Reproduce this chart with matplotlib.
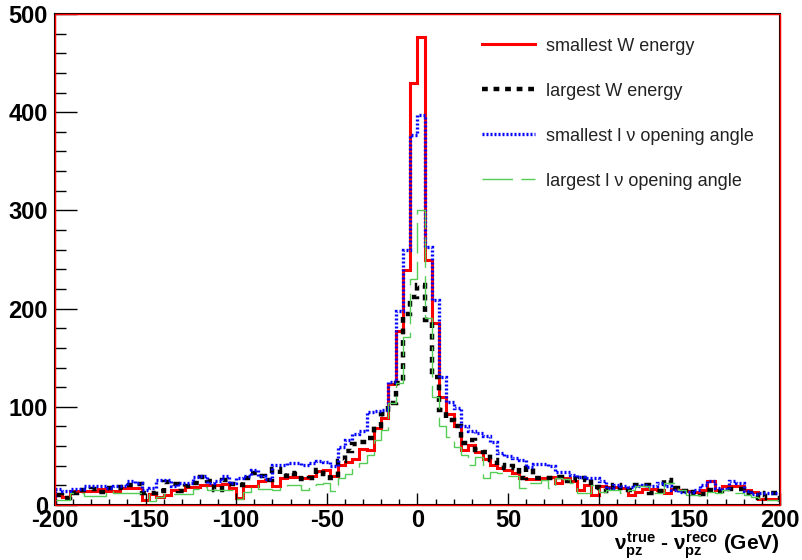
import numpy as np
import matplotlib
matplotlib.use('Agg')
import matplotlib.pyplot as plt
from matplotlib.patches import Rectangle

plt.rcParams['font.family'] = ['Liberation Sans', 'DejaVu Sans']
plt.rcParams['axes.unicode_minus'] = False
plt.rcParams['mathtext.fontset'] = 'custom'
plt.rcParams['mathtext.rm'] = 'Liberation Sans:bold'
plt.rcParams['mathtext.it'] = 'Liberation Sans:bold'
plt.rcParams['mathtext.bf'] = 'Liberation Sans:bold'

# 100 bins of width 4 GeV from -200 to 200
edges = np.linspace(-200, 200, 101)

smallest_w = [10, 8, 14, 14, 14, 14, 16, 14, 14, 17,
              17, 17, 5, 11, 8, 10, 15, 15, 18, 18,
              20, 20, 20, 21, 17, 7, 19, 19, 24, 25,
              19, 28, 29, 29, 27, 30, 35, 36, 30, 41,
              44, 47, 57, 56, 78, 89, 123, 177, 239, 430,
              477, 249, 185, 110, 93, 80, 56, 61, 54, 47,
              41, 38, 36, 33, 27, 26, 26, 28, 29, 22,
              27, 24, 15, 20, 10, 19, 18, 18, 17, 10,
              13, 16, 16, 15, 12, 16, 15, 14, 13, 15,
              24, 15, 19, 19, 19, 15, 13, 6, 6, 6]

largest_w = [10, 7, 12, 15, 15, 16, 13, 17, 17, 18,
             20, 21, 12, 12, 14, 23, 21, 14, 19, 22,
             29, 24, 15, 25, 21, 20, 27, 33, 30, 25,
             37, 30, 33, 32, 26, 28, 36, 32, 27, 45,
             55, 62, 64, 68, 80, 93, 104, 124, 195, 212,
             224, 188, 130, 97, 87, 80, 63, 66, 56, 54,
             46, 41, 38, 40, 27, 38, 27, 27, 27, 29,
             24, 27, 25, 27, 18, 17, 14, 20, 17, 15,
             20, 20, 12, 14, 25, 17, 14, 12, 13, 11,
             15, 14, 16, 16, 16, 12, 10, 7, 12, 12]

smallest_lnu = [16, 14, 16, 16, 19, 19, 19, 17, 19, 19,
                24, 22, 15, 17, 25, 25, 19, 22, 22, 29,
                30, 22, 24, 30, 22, 27, 30, 36, 30, 26,
                41, 41, 43, 43, 41, 43, 45, 44, 40, 59,
                66, 72, 75, 95, 96, 97, 125, 198, 260, 377,
                397, 263, 209, 130, 105, 99, 80, 75, 73, 70,
                64, 53, 50, 48, 46, 39, 42, 42, 40, 34,
                34, 31, 29, 27, 28, 24, 17, 20, 19, 18,
                19, 20, 19, 22, 19, 15, 13, 13, 15, 20,
                24, 17, 16, 24, 22, 14, 11, 12, 12, 12]

largest_lnu = [5, 5, 12, 12, 9, 9, 9, 14, 12, 12,
               12, 12, 12, 4, 8, 11, 11, 11, 11, 16,
               18, 15, 15, 15, 15, 6, 13, 20, 16, 16,
               15, 19, 20, 20, 15, 20, 21, 22, 14, 27,
               32, 38, 43, 51, 66, 76, 104, 124, 171, 230,
               300, 190, 110, 80, 69, 59, 51, 41, 49, 28,
               34, 33, 30, 30, 17, 22, 22, 25, 17, 27,
               26, 22, 12, 12, 20, 13, 15, 15, 12, 15,
               19, 19, 12, 12, 22, 22, 15, 10, 10, 8,
               13, 12, 15, 12, 12, 10, 8, 7, 5, 5]

labels = ['smallest W energy', 'largest W energy',
          'smallest l \u03bd opening angle', 'largest l \u03bd opening angle']

fig = plt.figure(figsize=(8.03, 5.60), dpi=100)
ax = fig.add_axes([55/803, 1-505/560, 725/803, 491/560])

ax.stairs(smallest_w, edges, color='#ff0000', lw=2.2, label=labels[0])
ax.stairs(largest_w, edges, color='black', lw=3.2, linestyle=(0, (1.3, 1.3)), label=labels[1])
ax.stairs(smallest_lnu, edges, color='#0000ff', lw=2.4, linestyle=(0, (0.6, 0.6)), label=labels[2])
ax.stairs(largest_lnu, edges, color='#55cc55', lw=1.0, linestyle=(0, (22, 6)), label=labels[3])

ax.set_xlim(-200, 200)
ax.set_ylim(0, 500)
ax.set_xticks(np.arange(-200, 201, 50))
ax.set_xticks(np.arange(-200, 201, 10), minor=True)
ax.set_yticks(np.arange(0, 501, 100))
ax.set_yticks(np.arange(0, 501, 20), minor=True)
ax.tick_params(axis='both', which='both', direction='in', labelsize=17)
ax.tick_params(axis='x', which='major', length=9, width=1, pad=3)
ax.tick_params(axis='x', which='minor', length=4.5, width=1)
ax.tick_params(axis='y', which='major', length=16, width=1, pad=5)
ax.tick_params(axis='y', which='minor', length=8, width=1)
for lab in ax.get_xticklabels() + ax.get_yticklabels():
    lab.set_fontweight('bold')

for s in ax.spines.values():
    s.set_color('black')
    s.set_linewidth(1.5)
ax.add_patch(Rectangle((0, 0), 1, 1, transform=ax.transAxes, fill=False,
                       edgecolor='#ff0000', lw=1.0, zorder=5, clip_on=False))

ax.text(1.0, -0.082, r'$\nu^{true}_{pz}$ - $\nu^{reco}_{pz}$ (GeV)', transform=ax.transAxes,
        ha='right', va='center', fontsize=15, fontweight='bold')

leg = ax.legend(loc='upper left', bbox_to_anchor=(0.567, 0.985), frameon=False,
                fontsize=13, handlelength=2.9, labelspacing=1.55, handletextpad=0.65)
for t in leg.get_texts():
    t.set_color('#222222')

fig.savefig('out.png', dpi=100)
